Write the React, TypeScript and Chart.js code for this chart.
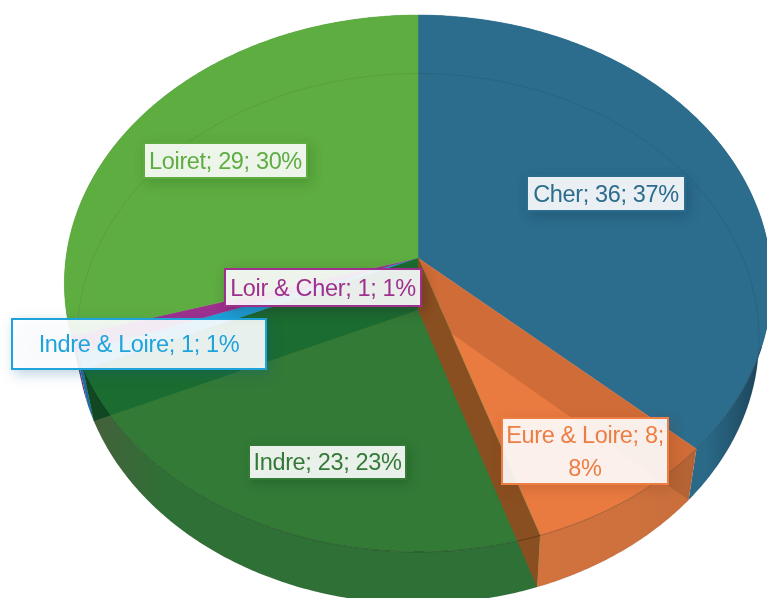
import React, { useEffect, useRef } from "react";
import { Chart, registerables } from "chart.js";

Chart.register(...registerables);

const categories = ["Cher", "Eure & Loire", "Indre", "Indre & Loire", "Loir & Cher", "Loiret"];
const values = [36, 8, 23, 1, 1, 29];
const percents = [37, 8, 23, 1, 1, 30];

const faceColors = ["#2C6C8C", "#E97A40", "#337A37", "#1EA3DB", "#9E308E", "#5EAD41"];
const labelColors = ["#2C6C8C", "#ED7D43", "#337A37", "#1EA3DB", "#9E308E", "#5EAD41"];
const shadowColors = ["rgba(10,50,80,0.3)", "rgba(120,60,20,0.25)", "rgba(10,60,20,0.3)", "rgba(10,90,140,0.3)", "rgba(40,10,40,0.3)", "rgba(30,90,20,0.3)"];
const sideStops: [number, number, string, string][] = [
  [705, 768, "#2A6A88", "#1C3F55"],
  [540, 700, "#D2733E", "#C96F3C"],
  [92, 165, "#45603C", "#2E7035"],
  [70, 95, "#1A6FA0", "#1A6FA0"],
  [70, 95, "#6A2A70", "#6A2A70"],
  [60, 100, "#4A8A35", "#4A8A35"],
];
// label boxes: x, y, width, height
const labelBoxes = [
  [526, 175, 160, 37],
  [501, 417, 168, 68],
  [248, 444, 159, 36],
  [11, 318, 256, 52],
  [224, 268, 198, 39],
  [143, 142, 165, 37],
];

const FONT = '23.5px "Liberation Sans"';

type Plane = { cx: number; cy: number; a: number; b: number; k: number };
const topPlane: Plane = { cx: 418, cy: 258, a: 352, b: 266, k: 0.095 };
const lowPlane: Plane = { cx: 418, cy: 310, a: 339, b: 262, k: 0.108 };

function proj(p: Plane, ang: number): [number, number] {
  const u = Math.sin(ang);
  const v = -Math.cos(ang);
  const w = 1 - p.k * v;
  return [p.cx + (p.a * u) / w, p.cy + (p.b * v) / w];
}

function arcPts(p: Plane, a0: number, a1: number): [number, number][] {
  const n = Math.max(2, Math.ceil(Math.abs(a1 - a0) / 0.01));
  const out: [number, number][] = [];
  for (let i = 0; i <= n; i++) out.push(proj(p, a0 + ((a1 - a0) * i) / n));
  return out;
}

function poly(ctx: CanvasRenderingContext2D, pts: [number, number][]) {
  ctx.beginPath();
  pts.forEach((q, i) => (i ? ctx.lineTo(q[0], q[1]) : ctx.moveTo(q[0], q[1])));
  ctx.closePath();
}

function wallQuad(ang: number): [number, number][] {
  return [[topPlane.cx, topPlane.cy], proj(topPlane, ang), proj(lowPlane, ang), [lowPlane.cx, lowPlane.cy]];
}

const perspectivePie = {
  id: "perspectivePie",
  beforeDatasetsDraw(chart: any) {
    const ctx: CanvasRenderingContext2D = chart.ctx;
    const arcs = chart.getDatasetMeta(0).data;
    const ang = arcs.map((el: any) => {
      const s = el.getProps(["startAngle", "endAngle"], true);
      return [s.startAngle + Math.PI / 2, s.endAngle + Math.PI / 2];
    });
    ctx.save();
    // outer walls
    [5, 4, 3, 0, 1, 2].forEach((i) => {
      const [a0, a1] = ang[i];
      const pts = [...arcPts(topPlane, a0, a1), ...arcPts(lowPlane, a1, a0)];
      const [x0, x1, c0, c1] = sideStops[i];
      const g = ctx.createLinearGradient(x0, 0, x1, 0);
      g.addColorStop(0, c0);
      g.addColorStop(1, c1);
      poly(ctx, pts);
      ctx.fillStyle = g;
      ctx.fill();
    });
    // top faces
    arcs.forEach((_: any, i: number) => {
      const [a0, a1] = ang[i];
      poly(ctx, [[topPlane.cx, topPlane.cy], ...arcPts(topPlane, a0, a1)]);
      ctx.fillStyle = faceColors[i];
      ctx.fill();
      ctx.strokeStyle = faceColors[i];
      ctx.lineWidth = 0.5;
      ctx.stroke();
    });
    // radial walls seen through the top
    poly(ctx, wallQuad(ang[0][1]));
    ctx.fillStyle = "rgba(60,30,10,0.14)";
    ctx.fill();
    poly(ctx, wallQuad(ang[1][1]));
    ctx.fillStyle = "rgb(138,79,32)";
    ctx.fill();
    poly(ctx, wallQuad(ang[2][1]));
    ctx.fillStyle = "rgba(11,99,43,0.6)";
    ctx.fill();
    // the same wall, where it lies over the outer side, is darkest
    ctx.save();
    ctx.beginPath();
    ctx.rect(0, 0, 767, 598);
    arcPts(topPlane, 0, Math.PI * 2).forEach((q, i) => (i ? ctx.lineTo(q[0], q[1]) : ctx.moveTo(q[0], q[1])));
    ctx.closePath();
    ctx.clip("evenodd");
    poly(ctx, wallQuad(ang[2][1]));
    ctx.fillStyle = "rgba(0,40,20,0.45)";
    ctx.fill();
    ctx.restore();
    // rims
    ctx.lineWidth = 1;
    poly(ctx, arcPts(lowPlane, 0, Math.PI * 2));
    ctx.strokeStyle = "rgba(0,0,0,0.07)";
    ctx.stroke();
    ctx.beginPath();
    arcPts(topPlane, 1.9, 4.4).forEach((q, i) => (i ? ctx.lineTo(q[0], q[1]) : ctx.moveTo(q[0], q[1])));
    ctx.strokeStyle = "rgba(0,0,0,0.28)";
    ctx.stroke();
    ctx.restore();

    // labels
    ctx.save();
    ctx.font = FONT;
    (ctx as any).letterSpacing = "-0.35px";
    ctx.textAlign = "center";
    ctx.textBaseline = "middle";
    categories.forEach((cat, i) => {
      const [x, y, w, h] = labelBoxes[i];
      ctx.save();
      ctx.shadowColor = shadowColors[i];
      ctx.shadowBlur = 12;
      ctx.shadowOffsetX = 3;
      ctx.shadowOffsetY = 4;
      ctx.fillStyle = "rgba(255,255,255,0.9)";
      ctx.fillRect(x, y, w, h);
      ctx.restore();
      ctx.strokeStyle = labelColors[i];
      ctx.lineWidth = 2;
      ctx.strokeRect(x + 1, y + 1, w - 2, h - 2);
      const words = `${cat}; ${values[i]}; ${percents[i]}%`.split(" ");
      const lines: string[] = [];
      let cur = "";
      words.forEach((word) => {
        const t = cur ? cur + " " + word : word;
        if (ctx.measureText(t).width > w - 6 && cur) {
          lines.push(cur);
          cur = word;
        } else cur = t;
      });
      lines.push(cur);
      ctx.fillStyle = labelColors[i];
      const lh = 33;
      lines.forEach((ln, j) => {
        ctx.fillText(ln, x + w / 2, y + h / 2 + 2 + (j - (lines.length - 1) / 2) * lh);
      });
    });
    ctx.restore();
    return false;
  },
};

export default function App() {
  const ref = useRef<HTMLCanvasElement>(null);
  useEffect(() => {
    document.body.style.margin = "0";
    const chart = new Chart(ref.current as HTMLCanvasElement, {
      type: "pie",
      data: {
        labels: categories,
        datasets: [{ data: values, backgroundColor: faceColors, borderWidth: 0 }],
      },
      options: {
        animation: false,
        responsive: false,
        plugins: { legend: { display: false }, tooltip: { enabled: false } },
      },
      plugins: [perspectivePie],
    } as any);
    return () => chart.destroy();
  }, []);
  return (
    <div style={{ width: 767, height: 598, overflow: "hidden" }}>
      <canvas ref={ref} width={767} height={598} style={{ display: "block", filter: "blur(0.5px)" }} />
    </div>
  );
}
